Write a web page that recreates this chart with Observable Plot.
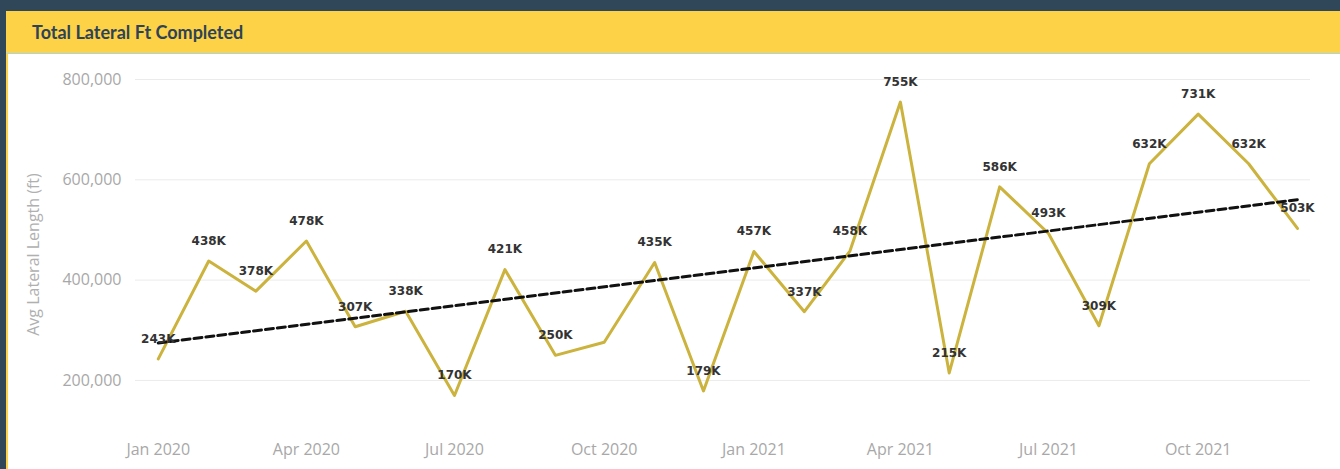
<!DOCTYPE html>
<html>
<head>
<meta charset="utf-8">
<script src="https://cdn.jsdelivr.net/npm/d3@7"></script>
<script src="https://cdn.jsdelivr.net/npm/@observablehq/plot@0.6"></script>
<style>
  html, body { margin: 0; padding: 0; }
  body { width: 1340px; height: 469px; background: #304659; position: relative; overflow: hidden; }
  #header { position: absolute; left: 6px; top: 11px; right: 0; height: 42px; background: #FDD247;
            border-bottom: 1px solid #a6d6ec; }
  #title { position: absolute; left: 26px; top: 0; line-height: 42px; font-family: Lato, sans-serif;
           font-weight: 700; font-size: 18px; color: #2E4356; }
  #panel { position: absolute; left: 6px; top: 54px; width: 1334px; height: 415px; background: #fff;
           border-left: 2px solid #FDD247; box-sizing: border-box; }
  #chart { position: absolute; left: 0; top: 0; }
</style>
</head>
<body>
<div id="header"><div id="title">Total Lateral Ft Completed</div></div>
<div id="panel"><div id="chart"></div></div>
<script>
const months = ["2020-01","2020-02","2020-03","2020-04","2020-05","2020-06","2020-07","2020-08","2020-09","2020-10","2020-11","2020-12",
                "2021-01","2021-02","2021-03","2021-04","2021-05","2021-06","2021-07","2021-08","2021-09","2021-10","2021-11","2021-12"];
const values = [243000,438000,378000,478000,307000,338000,170000,421000,250000,276000,435000,179000,
                457000,337000,458000,755000,215000,586000,493000,309000,632000,731000,632000,503000];
const hiddenLabels = ["2020-10"];
const yTicks = [200000,400000,600000,800000];
const yLabel = "Avg Lateral Length (ft)";

const data = months.map((m, i) => ({date: new Date(m + "-01T00:00:00Z"), month: m, value: values[i]}));
const first = data[0].date, last = data[data.length - 1].date;

const chart = Plot.plot({
  width: 1332,
  height: 415,
  marginLeft: 127,
  marginRight: 30,
  marginTop: 25,
  marginBottom: 64,
  style: {fontFamily: "'Open Sans', sans-serif", background: "transparent"},
  x: {type: "utc", domain: [d3.utcDay.offset(first, -14), d3.utcDay.offset(last, 8)]},
  y: {domain: [150000, 800000]},
  marks: [
    Plot.gridY(yTicks, {stroke: "#ebebeb", strokeOpacity: 1, strokeWidth: 1}),
    Plot.axisY(yTicks, {tickSize: 0, tickPadding: 14, tickFormat: d3.format(","), fontSize: 16, fill: "#a8a8a8",
      letterSpacing: 0.8, label: null}),
    Plot.text([yLabel], {frameAnchor: "left", rotate: -90, dx: -102, dy: 12, fontSize: 16, fill: "#b0b0b0",
      textAnchor: "middle", lineAnchor: "middle", letterSpacing: 0.4, fontFamily: "'Open Sans', sans-serif"}),
    Plot.axisX({ticks: d3.utcMonth.every(3), tickSize: 0, tickPadding: 38, tickFormat: d3.utcFormat("%b %Y"),
      fontSize: 16, fill: "#a8a8a8", letterSpacing: 1, label: null}),
    Plot.lineY(data, {x: "date", y: "value", stroke: "#CBB33D", strokeWidth: 3}),
    Plot.linearRegressionY(data, {x: "date", y: "value", ci: 0, stroke: "#111", strokeWidth: 3,
      strokeDasharray: "8,4"}),
    Plot.text(data.filter(d => !hiddenLabels.includes(d.month)), {x: "date", y: "value",
      text: d => `${Math.round(d.value / 1000)}K`, dy: -20, fill: "#333", fontSize: 12,
      fontWeight: "bold", fontFamily: "'DejaVu Sans', sans-serif", letterSpacing: 0.8})
  ]
});
document.getElementById("chart").appendChild(chart);
</script>
</body>
</html>
